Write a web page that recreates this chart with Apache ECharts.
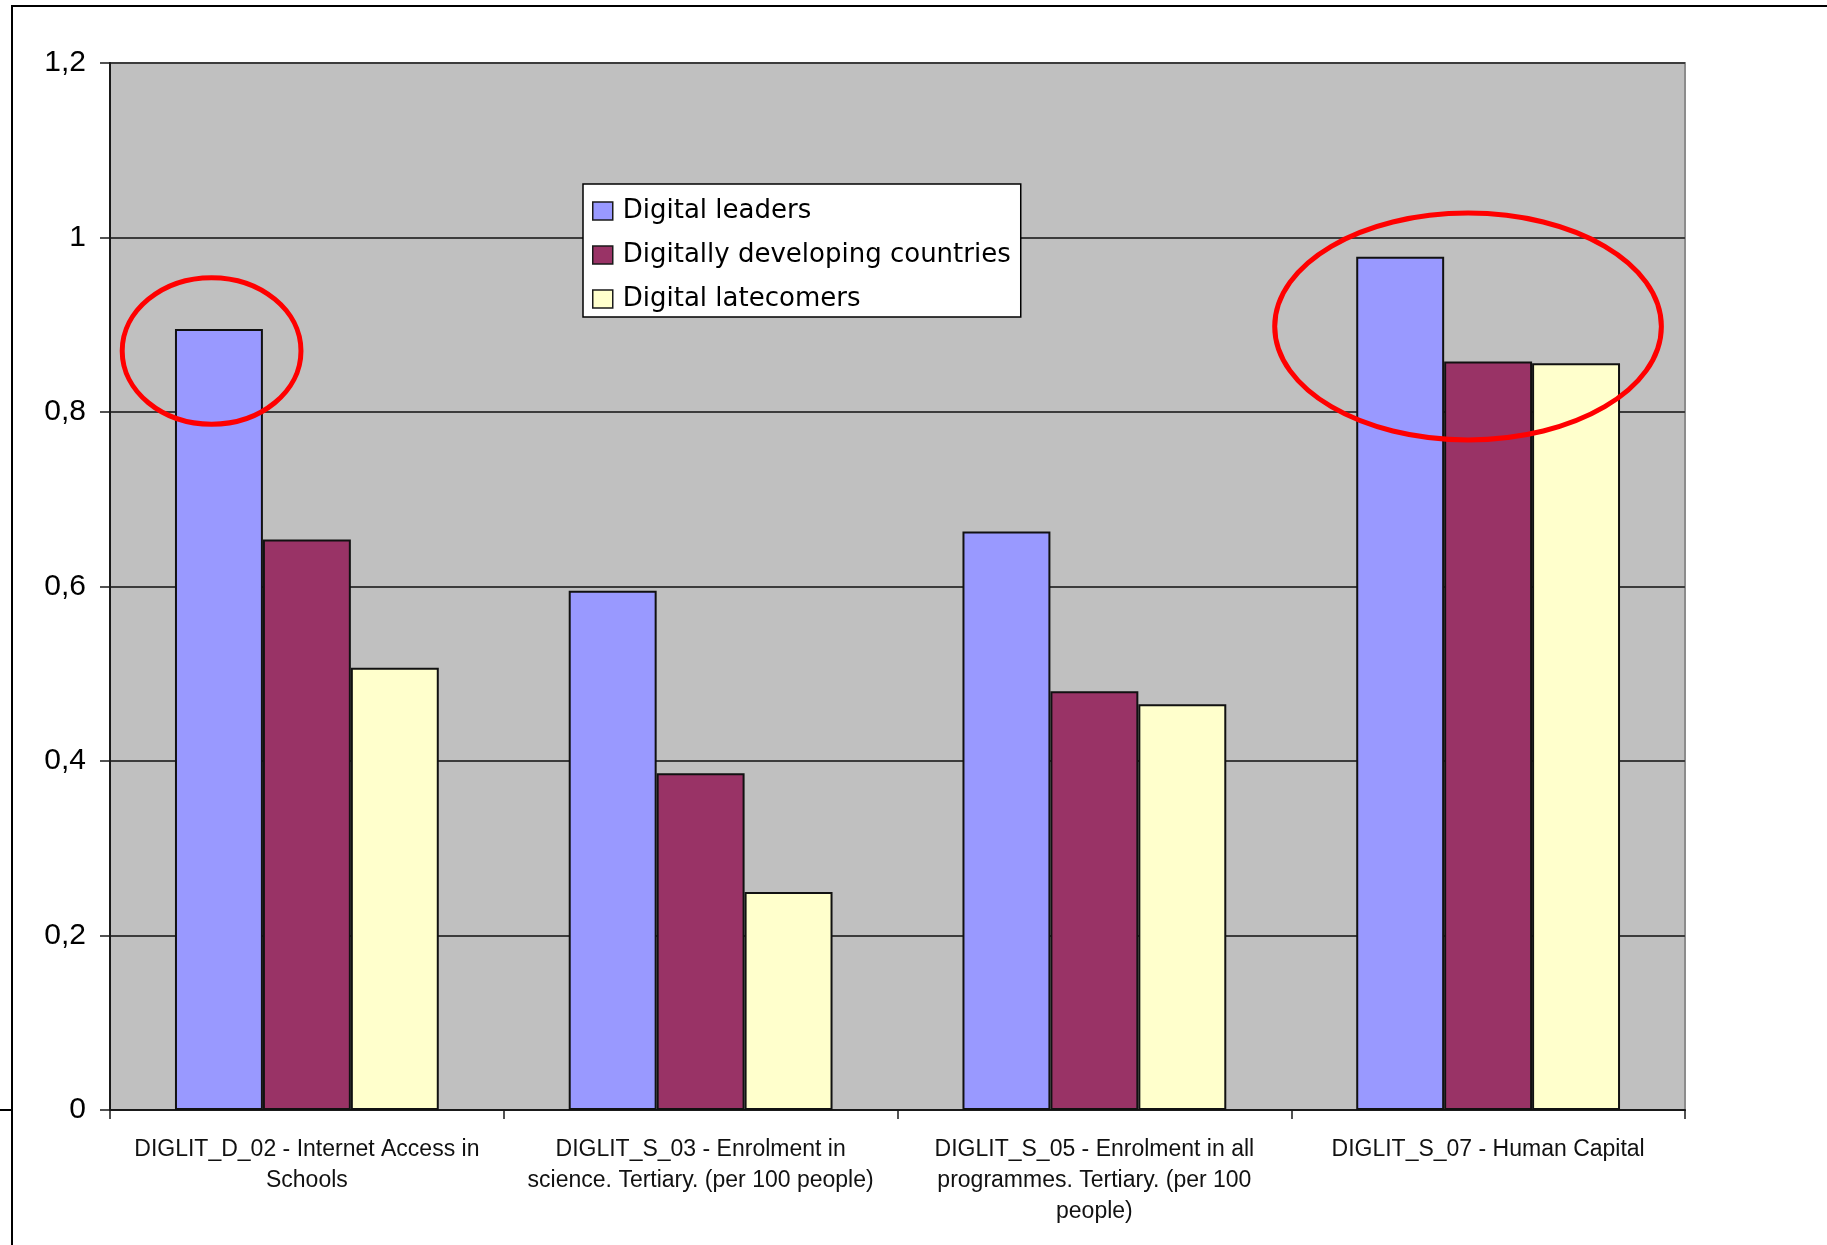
<!DOCTYPE html>
<html>
<head>
<meta charset="utf-8">
<title>Digital literacy indicators by country group</title>
<script src="https://cdn.jsdelivr.net/npm/echarts@6/dist/echarts.min.js"></script>
<style>
  html, body { margin: 0; padding: 0; background: #ffffff; }
  #chart { width: 1827px; height: 1245px; }
</style>
</head>
<body>
<div id="chart"></div>
<script>
// Indicators on the category axis (line breaks as printed under the axis)
const categories = [
  'DIGLIT_D_02 - Internet Access in\nSchools',
  'DIGLIT_S_03 - Enrolment in\nscience. Tertiary. (per 100 people)',
  'DIGLIT_S_05 - Enrolment in all\nprogrammes. Tertiary. (per 100\npeople)',
  'DIGLIT_S_07 - Human Capital'
];

// Group averages per indicator
const digitalLeaders      = [0.895, 0.595, 0.663, 0.978];
const developingCountries = [0.654, 0.386, 0.480, 0.858];
const digitalLatecomers   = [0.507, 0.250, 0.465, 0.856];

const seriesNames = ['Digital leaders', 'Digitally developing countries', 'Digital latecomers'];
const seriesColors = ['#9999ff', '#993366', '#ffffcc'];

// Y axis ticks
const yMin = 0, yMax = 1.2, yStep = 0.2;

// Highlight rings: category index, centre value, horizontal offset and radius
// (both as fractions of the category band) and vertical radius in value units
const highlights = [
  { cat: 0, value: 0.870, dx: -0.242, rx: 0.227, ry: 0.084 },
  { cat: 3, value: 0.898, dx: -0.051, rx: 0.491, ry: 0.130 }
];

const chart = echarts.init(document.getElementById('chart'), null, { renderer: 'canvas' });

const seriesData = [digitalLeaders, developingCountries, digitalLatecomers];

const option = {
  animation: false,
  backgroundColor: '#ffffff',
  grid: {
    left: 110, right: 142, top: 63, bottom: 135,
    show: true,
    backgroundColor: '#c0c0c0',
    borderColor: '#8c8c8c',
    borderWidth: 2
  },
  legend: {
    orient: 'vertical',
    left: 583, top: 184,
    padding: [14, 10, 5, 9],
    backgroundColor: '#ffffff',
    borderColor: '#000000',
    borderWidth: 1.5,
    itemWidth: 20, itemHeight: 18,
    itemGap: 18,
    icon: 'rect',
    itemStyle: { borderColor: '#1a1a1a', borderWidth: 1.5 },
    textStyle: {
      fontFamily: '"DejaVu Sans", Verdana, sans-serif',
      fontSize: 26, lineHeight: 26, color: '#000000',
      padding: [0, 0, 0, 5]
    },
    data: seriesNames
  },
  xAxis: {
    type: 'category',
    data: categories,
    axisLine: { show: true, lineStyle: { color: '#1a1a1a', width: 2 } },
    axisTick: { show: true, length: 9, lineStyle: { color: '#1a1a1a', width: 1.5 } },
    axisLabel: {
      interval: 0,
      margin: 24,
      fontFamily: '"Liberation Sans", Arial, sans-serif',
      fontSize: 23,
      lineHeight: 31,
      color: '#111111',
      align: 'center'
    },
    splitLine: { show: false }
  },
  yAxis: {
    type: 'value',
    min: yMin, max: yMax, interval: yStep,
    axisLine: { show: true, lineStyle: { color: '#1a1a1a', width: 2 } },
    axisTick: { show: true, length: 10, lineStyle: { color: '#1a1a1a', width: 1.5 } },
    axisLabel: {
      margin: 24,
      fontFamily: '"Liberation Sans", Arial, sans-serif',
      fontSize: 30,
      color: '#000000',
      formatter: v => String(+v.toFixed(1)).replace('.', ',')
    },
    splitLine: { show: true, lineStyle: { color: '#3c3c3c', width: 2 } }
  },
  series: seriesNames.map((name, i) => ({
    name: name,
    type: 'bar',
    data: seriesData[i],
    barGap: '0%',
    barCategoryGap: '33%',
    itemStyle: { color: seriesColors[i], borderColor: '#111111', borderWidth: 2 }
  }))
};

chart.setOption(option);

// Chart-area frame lines and the red highlight rings drawn on top of the plot
function drawOverlay() {
  const gridModel = chart.getModel().getComponent('grid', 0);
  const rect = gridModel.coordinateSystem.getRect();
  const band = rect.width / categories.length;

  const rings = highlights.map(h => {
    const c = chart.convertToPixel({ gridIndex: 0 }, [h.cat, h.value]);
    const top = chart.convertToPixel({ gridIndex: 0 }, [h.cat, h.value + h.ry]);
    return {
      type: 'ellipse',
      z: 100,
      shape: {
        cx: c[0] + h.dx * band,
        cy: c[1],
        rx: h.rx * band,
        ry: Math.abs(c[1] - top[1])
      },
      style: { fill: 'none', stroke: '#ff0000', lineWidth: 5 }
    };
  });

  const frame = [
    { type: 'line', z: 100, shape: { x1: 11, y1: 6, x2: 1827, y2: 6 },
      style: { stroke: '#000000', lineWidth: 2 } },
    { type: 'line', z: 100, shape: { x1: 12, y1: 6, x2: 12, y2: 1245 },
      style: { stroke: '#000000', lineWidth: 2 } },
    { type: 'line', z: 100, shape: { x1: 0, y1: 1110, x2: 12, y2: 1110 },
      style: { stroke: '#000000', lineWidth: 2 } }
  ];

  chart.setOption({ graphic: { elements: frame.concat(rings) } });
}

drawOverlay();
</script>
</body>
</html>
